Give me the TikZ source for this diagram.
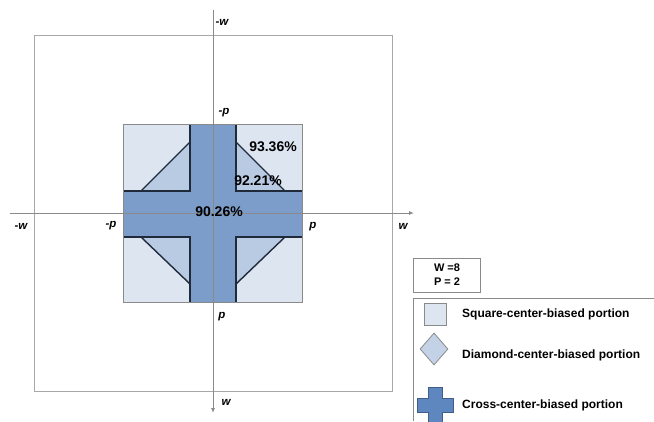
\documentclass[tikz,border=0pt]{standalone}
\usepackage{fontspec}
\setmainfont{Liberation Sans}
\usetikzlibrary{arrows.meta,positioning,shapes.geometric}
\definecolor{paleblue}{HTML}{DDE5F1}
\definecolor{midblue}{HTML}{B9CAE3}
\definecolor{crossblue}{HTML}{7C9CC9}
\definecolor{iconblue}{HTML}{5E87C0}
\definecolor{edgedark}{HTML}{1F2B3B}
\definecolor{gr60}{HTML}{8A8A8A}
\definecolor{gr40}{HTML}{A8A8A8}
\tikzset{
  axisline/.style={draw=gr60, line width=0.9pt},
  axisarrow/.style={axisline, -{Latex[length=5pt,width=4pt]}},
  axislabel/.style={font=\fontsize{11.5}{13}\selectfont\bfseries\itshape,
    inner sep=0pt},
  pctlabel/.style={font=\fontsize{14}{16}\selectfont\bfseries, inner sep=0pt},
  regionbox/.style={draw=gr60, fill=paleblue, line width=0.9pt},
  diamondpart/.style={draw=edgedark, fill=midblue, line width=1.4pt,
    line join=round},
  crossfill/.style={fill=crossblue},
  crossedge/.style={draw=edgedark, line width=1.4pt},
  parambox/.style={rectangle, draw=gr60, line width=0.8pt,
    minimum width=67pt, minimum height=34pt, align=center,
    font=\fontsize{11}{14}\selectfont\bfseries},
  legendtext/.style={anchor=west, inner sep=0pt,
    font=\fontsize{12}{14}\selectfont\bfseries},
  sqicon/.style={rectangle, draw=gr60, fill=paleblue, line width=0.8pt,
    minimum size=22pt, inner sep=0pt},
  dmicon/.style={diamond, draw=gr60, fill=midblue!85, line width=0.8pt,
    minimum width=28pt, minimum height=32pt, inner sep=0pt},
}

\begin{document}
\begin{tikzpicture}[x=1pt, y=-1pt]
  \useasboundingbox (0,0) rectangle (654,421);

  % outer square W
  \draw[draw=gr40, line width=0.9pt] (34,35) rectangle (392,391);

  % square-center-biased portion
  \draw[regionbox] (123,124) rectangle (302,302);

  % diamond-center-biased corners
  \draw[diamondpart] (190,142) -- (141,191) -- (190,191) -- cycle;
  \draw[diamondpart] (236,142) -- (285,191) -- (236,191) -- cycle;
  \draw[diamondpart] (190,284) -- (141,237) -- (190,237) -- cycle;
  \draw[diamondpart] (236,284) -- (285,237) -- (236,237) -- cycle;

  % cross-center-biased portion
  \fill[crossfill] (190,124) -- (236,124) -- (236,191) -- (302,191)
    -- (302,237) -- (236,237) -- (236,302) -- (190,302) -- (190,237)
    -- (123,237) -- (123,191) -- (190,191) -- cycle;
  \draw[crossedge] (190,124) -- (190,191) -- (123,191);
  \draw[crossedge] (236,124) -- (236,191) -- (302,191);
  \draw[crossedge] (190,302) -- (190,237) -- (123,237);
  \draw[crossedge] (236,302) -- (236,237) -- (302,237);
  \draw[draw=gr60, line width=0.9pt] (123,124) rectangle (302,302);

  % axes
  \coordinate (ytop) at (213,10);
  \coordinate (ybot) at (213,413);
  \coordinate (xleft) at (10,213);
  \coordinate (xright) at (414,213);
  \draw[axisarrow] (ytop) -- (ybot);
  \draw[axisarrow] (xleft) -- (xright);

  % axis labels
  \node[axislabel] (wtop) at (222,22) {-w};
  \node[axislabel] (ptop) at (224,113) {-p};
  \node[axislabel] (pbot) at (222,317) {p};
  \node[axislabel] (wbot) at (226,402) {w};
  \node[axislabel] (wleft) at (21,226) {-w};
  \node[axislabel] (pleft) at (111,226) {-p};
  \node[axislabel] (pright) at (313,227) {p};
  \node[axislabel] (wright) at (403,226) {w};

  % portions
  \node[pctlabel] (sqpct) at (273,147) {93.36\%};
  \node[pctlabel] (dmpct) at (258,181) {92.21\%};
  \node[pctlabel] (crpct) at (219,212) {90.26\%};

  % parameters
  \node[parambox] (params) at (447,275) {W =8\\P = 2};

  % legend
  \draw[draw=gr60, line width=0.8pt] (654,298) -- (413,298) -- (413,421);
  \node[sqicon] (sqkey) at (435,314) {};
  \node[dmicon] (dmkey) at (434,349) {};
  \fill[iconblue, draw=iconblue!70!black, line width=0.5pt]
    (428,387) -- (442,387) -- (442,398) -- (453,398) -- (453,412)
    -- (442,412) -- (442,423) -- (428,423) -- (428,412) -- (417,412)
    -- (417,398) -- (428,398) -- cycle;
  \coordinate (crkey) at (435,405);
  \node[legendtext] (sqtext) at (462,314) {Square-center-biased portion};
  \node[legendtext] (dmtext) at (462,355) {Diamond-center-biased portion};
  \node[legendtext] (crtext) at (462,405) {Cross-center-biased portion};
\end{tikzpicture}
\end{document}
